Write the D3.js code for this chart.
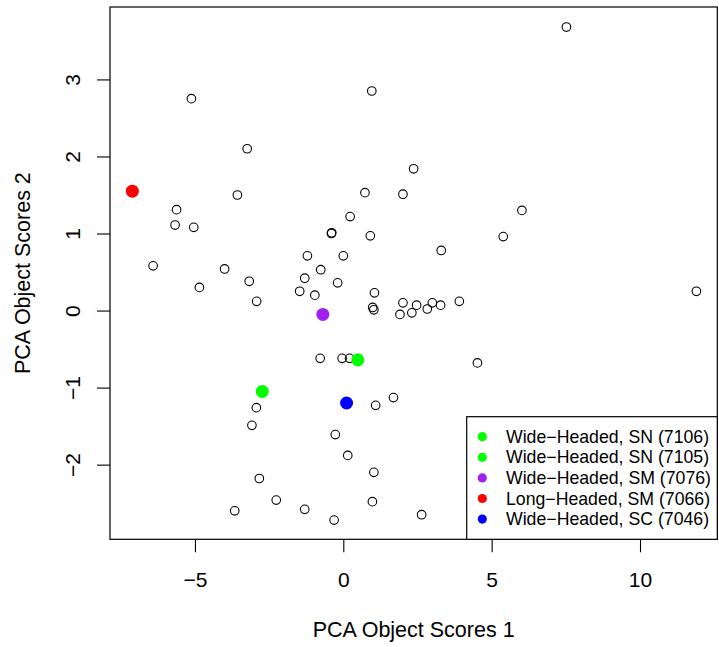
<!DOCTYPE html>
<html>
<head>
<meta charset="utf-8">
<script src="https://cdn.jsdelivr.net/npm/d3@7"></script>
<style>
  body { margin: 0; background: #fff; }
  svg { display: block; font-family: "Liberation Sans", Arial, Helvetica, sans-serif; }
</style>
</head>
<body>
<svg id="chart" width="719" height="647"></svg>
<script>
// ---- data ----
const scoresX = [-5.12, 0.96, -3.24, 2.37, -3.57, 0.73, 2.01, -5.62, -5.67, -5.04, 0.23, -0.39, -0.40, 0.91,
  -6.41, -4.00, -1.21, 0.00, -0.76, -3.17, -1.30, -0.19, -4.85, -1.47, -0.96, -2.92, 1.05, 0.99, 1.03,
  2.01, 1.91, 2.47, 2.31, 2.83, 3.00, 3.28, 3.91, 11.90, 7.52, 6.02, 5.39, 3.30,
  -0.78, -0.04, 0.21, 1.69, 1.09, -2.93, -3.08, -0.27, 0.15, 1.03, -2.83, -2.26, 0.98, -3.66, -1.30,
  -0.31, 2.64, 5.09, 4.52];
const scoresY = [2.75, 2.85, 2.10, 1.84, 1.50, 1.53, 1.51, 1.31, 1.11, 1.08, 1.22, 1.01, 1.00, 0.97,
  0.58, 0.54, 0.71, 0.71, 0.53, 0.38, 0.42, 0.36, 0.30, 0.25, 0.20, 0.12, 0.23, 0.04, 0.01,
  0.10, -0.05, 0.07, -0.03, 0.02, 0.10, 0.07, 0.12, 0.25, 3.68, 1.30, 0.96, 0.78,
  -0.62, -0.62, -0.62, -1.13, -1.23, -1.26, -1.49, -1.61, -1.88, -2.10, -2.18, -2.46, -2.48, -2.60, -2.58,
  -2.72, -2.65, -2.04, -0.68];

const groupLabels = ["Wide\u2212Headed, SN (7106)", "Wide\u2212Headed, SN (7105)", "Wide\u2212Headed, SM (7076)",
  "Long\u2212Headed, SM (7066)", "Wide\u2212Headed, SC (7046)"];
const groupColors = ["#00ff00", "#00ff00", "#a020f0", "#ff0000", "#0000ff"];
const groupX = [0.49, -2.73, -0.69, -7.11, 0.11];
const groupY = [-0.64, -1.05, -0.05, 1.55, -1.20];

const xTicks = [-5, 0, 5, 10];
const yTicks = [-2, -1, 0, 1, 2, 3];
const xTitle = "PCA Object Scores 1";
const yTitle = "PCA Object Scores 2";

// ---- layout ----
const pLeft = 110, pRight = 717.3, pTop = 7, pBottom = 539.3;
const svg = d3.select("#chart");

const x = d3.scaleLinear().domain([-7.863, 12.605]).range([pLeft, pRight]);
const y = d3.scaleLinear().domain([-2.969, 3.94]).range([pBottom, pTop]);
const fmt = d3.format("d");

// axes
const xAxis = svg.append("g").attr("transform", `translate(0,${pBottom})`)
  .call(d3.axisBottom(x).tickValues(xTicks).tickFormat(fmt).tickSize(13).tickSizeOuter(0).tickPadding(20));
xAxis.select(".domain").remove();
xAxis.selectAll("line").attr("stroke", "#000").attr("stroke-width", 1.1);
xAxis.selectAll("text").attr("font-size", 21).attr("fill", "#000")
  .attr("font-family", "Liberation Sans, Arial, sans-serif");

const yAxis = svg.append("g").attr("transform", `translate(${pLeft},0)`)
  .call(d3.axisLeft(y).tickValues(yTicks).tickFormat(fmt).tickSize(13).tickSizeOuter(0));
yAxis.select(".domain").remove();
yAxis.selectAll("line").attr("stroke", "#000").attr("stroke-width", 1.1);
yAxis.selectAll("text")
  .attr("font-size", 21).attr("fill", "#000")
  .attr("font-family", "Liberation Sans, Arial, sans-serif")
  .attr("x", 0).attr("y", -30).attr("dy", null)
  .attr("text-anchor", "middle")
  .attr("transform", "rotate(-90)");

// frame
svg.append("rect").attr("x", pLeft).attr("y", pTop)
  .attr("width", pRight - pLeft).attr("height", pBottom - pTop)
  .attr("fill", "none").attr("stroke", "#000").attr("stroke-width", 1.2);

// axis titles
svg.append("text").attr("x", (pLeft + pRight) / 2).attr("y", 637)
  .attr("text-anchor", "middle").attr("font-size", 21.5).attr("fill", "#000").text(xTitle);
svg.append("text").attr("transform", `translate(29.5,${(pTop + pBottom) / 2}) rotate(-90)`)
  .attr("text-anchor", "middle").attr("font-size", 21.5).attr("fill", "#000").text(yTitle);

// open points
const pts = scoresX.map((v, i) => ({ x: v, y: scoresY[i] }));
svg.append("g").selectAll("circle").data(pts).join("circle")
  .attr("cx", d => x(d.x)).attr("cy", d => y(d.y)).attr("r", 4.3)
  .attr("fill", "none").attr("stroke", "#000").attr("stroke-width", 1.1);

// highlighted points
const grp = groupX.map((v, i) => ({ x: v, y: groupY[i], c: groupColors[i] }));
svg.append("g").selectAll("circle").data(grp).join("circle")
  .attr("cx", d => x(d.x)).attr("cy", d => y(d.y)).attr("r", 6.5)
  .attr("fill", d => d.c);

// legend
const lg = svg.append("g");
lg.append("rect").attr("x", 466.7).attr("y", 416.7)
  .attr("width", pRight - 466.7).attr("height", pBottom - 416.7)
  .attr("fill", "#fff").attr("stroke", "#000").attr("stroke-width", 1.2);
groupLabels.forEach((lab, i) => {
  const yy = 436.7 + i * 20.6;
  lg.append("circle").attr("cx", 482.3).attr("cy", yy).attr("r", 4.6).attr("fill", groupColors[i]);
  lg.append("text").attr("x", 506).attr("y", yy).attr("dy", "0.35em")
    .attr("font-size", 17.7).attr("fill", "#000").text(lab);
});
</script>
</body>
</html>
